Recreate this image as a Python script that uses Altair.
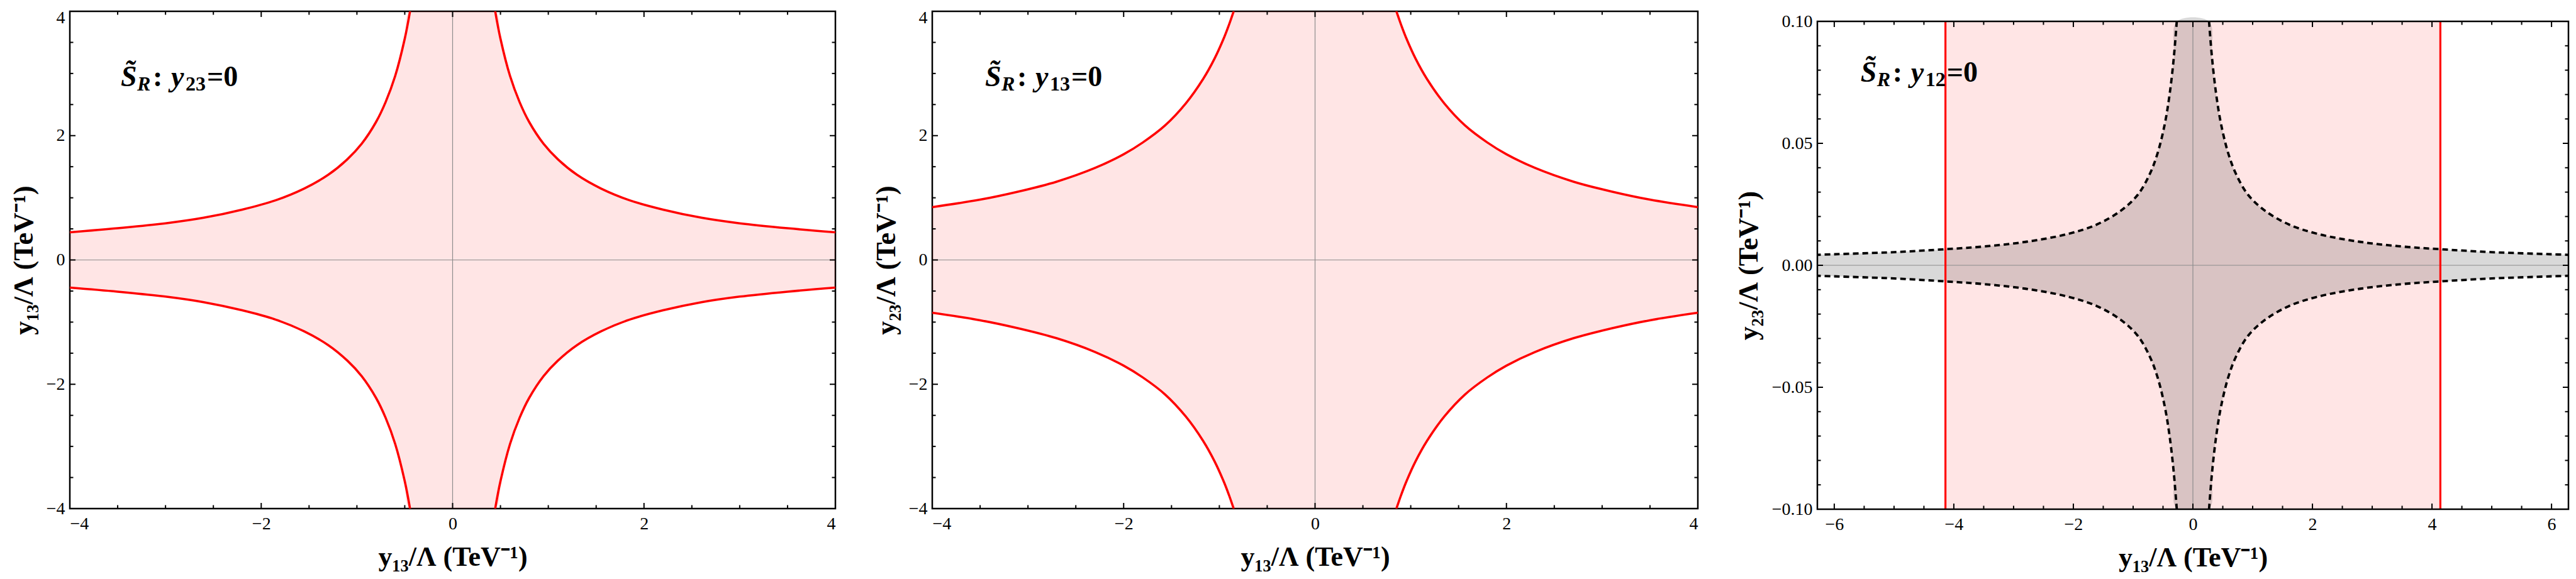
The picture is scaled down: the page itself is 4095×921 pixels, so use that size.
import altair as alt
import pandas as pd

# ---------------- data ----------------
# Panel 1 (S~_R: y23=0): upper-right branch of the red boundary
P1_X = [0.445, 0.5, 0.6, 0.7, 0.8, 0.95, 1.1, 1.3, 1.55, 1.85, 2.2, 2.6, 3.0, 3.5, 4.0]
P1_Y = [4.0, 3.56, 2.96, 2.54, 2.22, 1.87, 1.62, 1.37, 1.15, 0.96, 0.81, 0.68, 0.59, 0.51, 0.445]
# Panel 2 (S~_R: y13=0)
P2_X = [0.85, 0.9, 0.95, 1.05, 1.17, 1.35, 1.57, 1.8, 2.0, 2.3, 2.7, 3.1, 3.5, 4.0]
P2_Y = [4.0, 3.78, 3.58, 3.24, 2.91, 2.52, 2.16, 1.89, 1.70, 1.48, 1.26, 1.10, 0.97, 0.85]
# Panel 3 (S~_R: y12=0): dashed boundary of the grey region and the red vertical bounds
P3_X = [0.27, 0.32, 0.39, 0.47, 0.59, 0.72, 0.92, 1.2, 1.6, 2.1, 2.8, 3.5, 4.14, 5.0, 6.283]
P3_Y = [0.10, 0.085, 0.070, 0.058, 0.046, 0.0375, 0.029, 0.0225, 0.0168, 0.0128,
        0.0096, 0.0077, 0.0066, 0.0054, 0.0043]
P3_RED_X = [-4.14, 4.14]

# axis ranges and ticks
R12 = [-4, 4]
MAJ12 = [-4, -2, 0, 2, 4]
MIN12 = [-3.5, -3, -2.5, -1.5, -1, -0.5, 0.5, 1, 1.5, 2.5, 3, 3.5]
R3X = [-6.283, 6.283]
R3Y = [-0.1, 0.1]
MAJ3X = [-6, -4, -2, 0, 2, 4, 6]
MIN3X = [-5.5, -5, -4.5, -3.5, -3, -2.5, -1.5, -1, -0.5, 0.5, 1, 1.5, 2.5, 3, 3.5, 4.5, 5, 5.5]
MAJ3Y = [-0.1, -0.05, 0, 0.05, 0.1]
MIN3Y = [-0.09, -0.08, -0.07, -0.06, -0.04, -0.03, -0.02, -0.01,
         0.01, 0.02, 0.03, 0.04, 0.06, 0.07, 0.08, 0.09]

# annotation anchors (data coordinates)
LAB1 = {"x": -3.467, "y": 2.80, "sub": "23"}
LAB2 = {"x": -3.448, "y": 2.80, "sub": "13"}
LAB3 = {"x": -5.56, "y": 0.0753, "sub": "12"}

TITLE13 = "y\u2081\u2083/\u039b (TeV\u207b\u00b9)"
TITLE23 = "y\u2082\u2083/\u039b (TeV\u207b\u00b9)"

FONT = "Liberation Serif"
W12, H12 = 1217, 791
W3, H3, TOP3 = 1194, 792, 16      # panel 3 frame runs from TOP3 to H3
TMAJ, TMIN = 9, 5.5
# keep the topmost y label of panels 1-2 inside the page
TOP_LABEL_SHIFT = {"condition": {"test": "datum.value == 4", "value": 10}, "value": 0}


def branches(xs, ys):
    rows = []
    b = 0
    for sx in (1, -1):
        for sy in (1, -1):
            for i, (x, y) in enumerate(zip(xs, ys)):
                rows.append({"b": b, "i": i, "x": sx * x, "y": sy * y})
            b += 1
    return pd.DataFrame(rows)


def region(xs, ys):
    rows = [{"x": -x, "hi": y, "lo": -y} for x, y in reversed(list(zip(xs, ys)))]
    rows += [{"x": x, "hi": y, "lo": -y} for x, y in zip(xs, ys)]
    return pd.DataFrame(rows)


class Frame:
    def __init__(self, xdom, ydom, xmaj, ymaj, xfmt, yfmt, xtitle, ytitle, ytp,
                 yrange=None, ylaboff=None):
        self.xs = alt.Scale(domain=xdom, nice=False, zero=False)
        if yrange is None:
            self.ys = alt.Scale(domain=ydom, nice=False, zero=False)
        else:
            self.ys = alt.Scale(domain=ydom, nice=False, zero=False, range=yrange)
        self.xa = alt.Axis(values=xmaj, format=xfmt, title=xtitle,
                           labelPadding=10, titlePadding=17)
        if ylaboff is None:
            self.ya = alt.Axis(values=ymaj, format=yfmt, title=ytitle,
                               labelPadding=8, titlePadding=ytp)
        else:
            self.ya = alt.Axis(values=ymaj, format=yfmt, title=ytitle,
                               labelPadding=8, titlePadding=ytp, labelOffset=ylaboff)

    def X(self, f):
        return alt.X(f, scale=self.xs, axis=self.xa)

    def Y(self, f):
        return alt.Y(f, scale=self.ys, axis=self.ya)


def ticks(fr, majx, minx, majy, miny, W, top, bot):
    layers = []
    for vals, L in ((majx, TMAJ), (minx, TMIN)):
        df = pd.DataFrame({"v": vals})
        base = alt.Chart(df).mark_rule(color="black", strokeWidth=2)
        layers.append(base.encode(x=fr.X("v:Q"), y=alt.value(top), y2=alt.value(top + L)))
        layers.append(base.encode(x=fr.X("v:Q"), y=alt.value(bot), y2=alt.value(bot - L)))
    for vals, L in ((majy, TMAJ), (miny, TMIN)):
        df = pd.DataFrame({"v": vals})
        base = alt.Chart(df).mark_rule(color="black", strokeWidth=2)
        layers.append(base.encode(y=fr.Y("v:Q"), x=alt.value(0), x2=alt.value(L)))
        layers.append(base.encode(y=fr.Y("v:Q"), x=alt.value(W), x2=alt.value(W - L)))
    return layers


def zero_lines(fr, ydom):
    zx = pd.DataFrame({"v": [0], "lo": [ydom[0]], "hi": [ydom[1]]})
    zy = pd.DataFrame({"v": [0]})
    return [
        alt.Chart(zx).mark_rule(color="#8c8c8c", strokeWidth=1.2).encode(
            x=fr.X("v:Q"), y=fr.Y("lo:Q"), y2="hi:Q"),
        alt.Chart(zy).mark_rule(color="#8c8c8c", strokeWidth=1.2).encode(y=fr.Y("v:Q")),
    ]


def label(lab, fr):
    df = pd.DataFrame([{"x": lab["x"], "y": lab["y"]}])
    pieces = [
        ("S\u0303", "italic", 46, 0, 0),
        ("R", "italic", 32, 26, 7),
        (":", "normal", 46, 51, 0),
        ("y", "italic", 46, 80, 0),
        (lab["sub"], "normal", 32, 103, 7),
        ("=0", "normal", 46, 137, 0),
    ]
    out = []
    for txt, style, size, dx, dy in pieces:
        out.append(alt.Chart(df).mark_text(
            text=txt, align="left", baseline="alphabetic", dx=dx, dy=dy,
            font=FONT, fontSize=size, fontWeight="bold", fontStyle=style,
            color="black").encode(x=fr.X("x:Q"), y=fr.Y("y:Q")))
    return out


def red_panel(xs, ys, lab, xtitle, ytitle):
    fr = Frame(R12, R12, MAJ12, MAJ12, "d", "d", xtitle, ytitle, 13,
               ylaboff=TOP_LABEL_SHIFT)
    area = alt.Chart(region(xs, ys)).mark_area(
        color="#ff0000", opacity=0.1, clip=True, interpolate="catmull-rom").encode(
        x=fr.X("x:Q"), y=fr.Y("hi:Q"), y2="lo:Q")
    lines = alt.Chart(branches(xs, ys)).mark_line(
        color="#ff0000", strokeWidth=3.6, clip=True, interpolate="catmull-rom").encode(
        x=fr.X("x:Q"), y=fr.Y("y:Q"), detail="b:N", order="i:Q")
    layers = [area] + zero_lines(fr, R12) + [lines] + \
        ticks(fr, MAJ12, MIN12, MAJ12, MIN12, W12, 0, H12) + label(lab, fr)
    return alt.layer(*layers).properties(width=W12, height=H12)


p1 = red_panel(P1_X, P1_Y, LAB1, TITLE13, TITLE13)
p2 = red_panel(P2_X, P2_Y, LAB2, TITLE13, TITLE23)

# panel 3
fr3 = Frame(R3X, R3Y, MAJ3X, MAJ3Y, "d", ".2f", TITLE13, TITLE23, 14, yrange=[H3, TOP3])
box = pd.DataFrame([{"x1": R3X[0], "x2": R3X[1], "y1": R3Y[0], "y2": R3Y[1]}])
band = pd.DataFrame([{"x1": P3_RED_X[0], "x2": P3_RED_X[1], "y1": R3Y[0], "y2": R3Y[1]}])
band_l = alt.Chart(band).mark_rect(color="#ff0000", opacity=0.1).encode(
    x=fr3.X("x1:Q"), x2="x2:Q", y=fr3.Y("y1:Q"), y2="y2:Q")
grey = alt.Chart(region(P3_X, P3_Y)).mark_area(
    color="#000000", opacity=0.15, clip=True, interpolate="catmull-rom").encode(
    x=fr3.X("x:Q"), y=fr3.Y("hi:Q"), y2="lo:Q")
redv = alt.Chart(pd.DataFrame({"v": P3_RED_X, "lo": [R3Y[0]] * 2, "hi": [R3Y[1]] * 2})).mark_rule(
    color="#ff0000", strokeWidth=3.2).encode(x=fr3.X("v:Q"), y=fr3.Y("lo:Q"), y2="hi:Q")
dashed = alt.Chart(branches(P3_X, P3_Y)).mark_line(
    color="black", strokeWidth=3.8, strokeDash=[9, 6], clip=True,
    interpolate="catmull-rom").encode(
    x=fr3.X("x:Q"), y=fr3.Y("y:Q"), detail="b:N", order="i:Q")
frame3 = alt.Chart(box).mark_rect(fillOpacity=0, stroke="black", strokeWidth=2.5).encode(
    x=fr3.X("x1:Q"), x2="x2:Q", y=fr3.Y("y1:Q"), y2="y2:Q")
p3 = alt.layer(
    band_l, grey, *zero_lines(fr3, R3Y), redv, dashed, frame3,
    *ticks(fr3, MAJ3X, MIN3X, MAJ3Y, MIN3Y, W3, TOP3, H3),
    *label(LAB3, fr3),
).properties(width=W3, height=H3, view=alt.ViewBackground(stroke="transparent"))

chart = alt.hconcat(p1, p2, p3, spacing=54).properties(
    padding={"top": 4, "left": 6, "right": 0, "bottom": 0}
).configure_view(stroke="black", strokeWidth=2.5).configure_axis(
    labelFont=FONT, labelFontSize=28, labelColor="black",
    titleFont=FONT, titleFontSize=44, titleFontWeight="bold", titleColor="black",
    grid=False, ticks=False, domain=False,
)

chart.save("out.html", embed_options={"renderer": "svg", "actions": False})
